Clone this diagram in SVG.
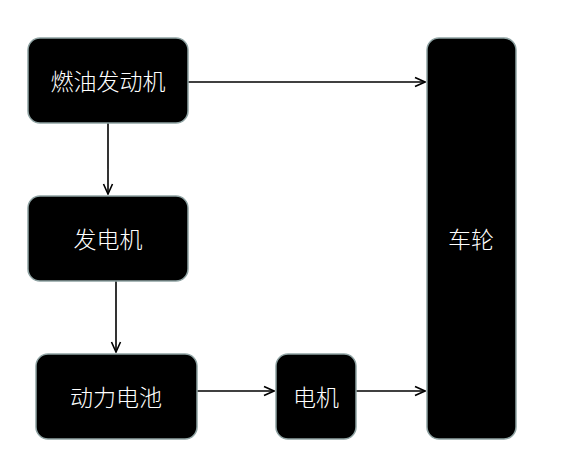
<svg xmlns="http://www.w3.org/2000/svg" width="572" height="475" viewBox="0 0 572 475">
<style>
.node{fill:#000;stroke:#8fa3a3;stroke-width:1.5}
.lbl{fill:#fff;font-family:"Noto Sans CJK SC","Noto Sans",sans-serif;font-size:23px;font-weight:300;text-anchor:middle;dominant-baseline:central}
.edge{fill:none;stroke:#000;stroke-width:1.6}
</style>
<defs>
<marker id="arr" viewBox="0 0 12 12" refX="11" refY="6" markerWidth="12" markerHeight="12" markerUnits="userSpaceOnUse" orient="auto">
<path d="M1,1.5 L11,6 L1,10.5" fill="none" stroke="#000" stroke-width="1.6"/>
</marker>
</defs>
<rect width="572" height="475" fill="#fff"/>
<g id="connectors">
<path class="edge" d="M188,82 L425,82" marker-end="url(#arr)"/>
<path class="edge" d="M108,123 L108,194" marker-end="url(#arr)"/>
<path class="edge" d="M116,281 L116,352" marker-end="url(#arr)"/>
<path class="edge" d="M197,391 L274,391" marker-end="url(#arr)"/>
<path class="edge" d="M356,391 L425,391" marker-end="url(#arr)"/>
</g>
<g id="engine"><rect class="node" x="28" y="38" width="160" height="85" rx="12"/><text class="lbl" x="108" y="80">燃油发动机</text></g>
<g id="generator"><rect class="node" x="28" y="196" width="160" height="85" rx="12"/><text class="lbl" x="108" y="238">发电机</text></g>
<g id="battery"><rect class="node" x="36" y="354" width="161" height="85" rx="12"/><text class="lbl" x="116" y="396">动力电池</text></g>
<g id="motor"><rect class="node" x="276" y="354" width="80" height="85" rx="12"/><text class="lbl" x="316" y="396">电机</text></g>
<g id="wheel"><rect class="node" x="427" y="38" width="89" height="401" rx="12"/><text class="lbl" x="471" y="238">车轮</text></g>
</svg>
